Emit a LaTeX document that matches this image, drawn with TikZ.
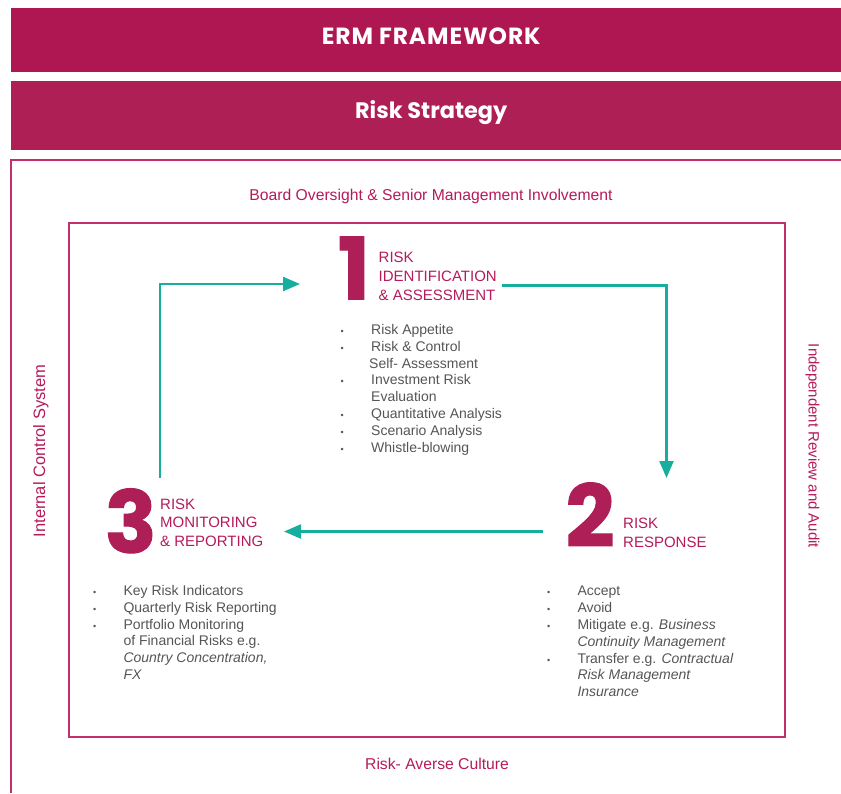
\documentclass[tikz,border=0pt]{standalone}
\usepackage{fontspec}
\setmainfont{Liberation Sans}
\newfontfamily\titlefont{Poppins}
\newfontfamily\numfont{Poppins}[FakeBold=1.2]
\usetikzlibrary{arrows.meta}
\definecolor{barA}{HTML}{AF1752}
\definecolor{barB}{HTML}{AE1F56}
\definecolor{crim}{HTML}{B51A5B}
\definecolor{numc}{HTML}{AE1F57}
\definecolor{framec}{HTML}{C0306A}
\definecolor{tealc}{HTML}{17AD9F}
\definecolor{txtc}{HTML}{555555}
\newcommand\bul{\makebox[31pt][l]{\hspace{0.5pt}{\fontsize{9}{9}\selectfont\textbullet}}}
\newcommand\ind{\hspace*{31pt}}
\begin{document}
\begin{tikzpicture}[x=1pt,y=-1pt,
  bar/.style={anchor=north west,inner sep=0pt,minimum width=840pt,text=white,
    font=\titlefont\bfseries\fontsize{22.4}{24}\selectfont},
  frameline/.style={draw=framec,line width=1.3pt},
  innerframe/.style={draw=framec,line width=1.7pt},
  lbl/.style={text=crim,inner sep=0pt,font=\fontsize{15.7}{18}\selectfont},
  head/.style={text=crim,inner sep=0pt,align=left,anchor=base west,font=\fontsize{15}{18.8}\selectfont},
  num/.style={text=numc,inner sep=0pt,anchor=base,font=\numfont\bfseries\fontsize{86}{86}\selectfont},
  list/.style={text=txtc,inner sep=0pt,align=left,anchor=base west,font=\fontsize{14}{16.83}\selectfont},
  flow/.style={draw=tealc,line width=2.3pt,-{Triangle[length=17pt,width=14pt]}}
]
\useasboundingbox (0,0) rectangle (841,793);
% top bars
\node[bar,fill=barA,minimum height=64pt,text height=14pt,text depth=5.6pt] (erm) at (11,8) {\fontsize{23.4}{24}\selectfont\addfontfeature{LetterSpace=4}ERM FRAMEWORK};
\node[bar,fill=barB,minimum height=69pt,text height=14pt,text depth=8.4pt] (strat) at (11,81) {Risk Strategy};
% frames
\draw[frameline] (841,160) -- (11,160) -- (11,793);
\draw[innerframe] (69,223) rectangle (785,737);
% frame labels
\node[lbl,anchor=base] (board) at (431,200) {Board Oversight \& Senior Management Involvement};
\node[lbl,anchor=base] (culture) at (437,769) {Risk- Averse Culture};
\node[lbl,anchor=base,rotate=90,font=\fontsize{16.5}{18}\selectfont] (ics) at (45,451) {Internal Control System};
\node[lbl,anchor=base,rotate=-90,font=\fontsize{15}{18}\selectfont] (ira) at (808.5,446) {Independent Review and Audit};
% step 1
\node[num] (n1) at (354,299.3) {1};
\node[head] (h1) at (378.5,300) {RISK\\IDENTIFICATION\\\& ASSESSMENT};
\node[list] (l1) at (340,452.3) {\bul Risk Appetite\\
\bul Risk \& Control\\
\hspace*{29pt}Self- Assessment\\
\bul Investment Risk\\
\ind Evaluation\\
\bul Quantitative Analysis\\
\bul Scenario Analysis\\
\bul Whistle-blowing};
% step 2
\node[num] (n2) at (590,546.7) {2};
\node[head] (h2) at (623,547.7) {RISK\\RESPONSE};
\node[list] (l2) at (546.3,696.8) {\bul Accept\\
\bul Avoid\\
\bul Mitigate e.g. \textit{Business}\\
\ind\textit{Continuity Management}\\
\bul Transfer e.g. \textit{Contractual}\\
\ind\textit{Risk Management}\\
\ind\textit{Insurance}};
% step 3
\node[num] (n3) at (130.7,552.7) {3};
\node[head] (h3) at (160,546.7) {RISK\\MONITORING\\\& REPORTING};
\node[list] (l3) at (92.3,679.5) {\bul Key Risk Indicators\\
\bul Quarterly Risk Reporting\\
\bul Portfolio Monitoring\\
\ind of Financial Risks e.g.\\
\ind\textit{Country Concentration,}\\
\ind\textit{FX}};
% arrows
\coordinate (a1s) at (502,285.5);
\coordinate (a1e) at (666.5,478);
\coordinate (a2s) at (543,531.5);
\coordinate (a2e) at (284,531.5);
\coordinate (a3s) at (160,478);
\coordinate (a3e) at (300,284);
\draw[flow] (a1s) -| (a1e);
\draw[flow] (a2s) -- (a2e);
\draw[flow] (a3s) |- (a3e);
\end{tikzpicture}
\end{document}
